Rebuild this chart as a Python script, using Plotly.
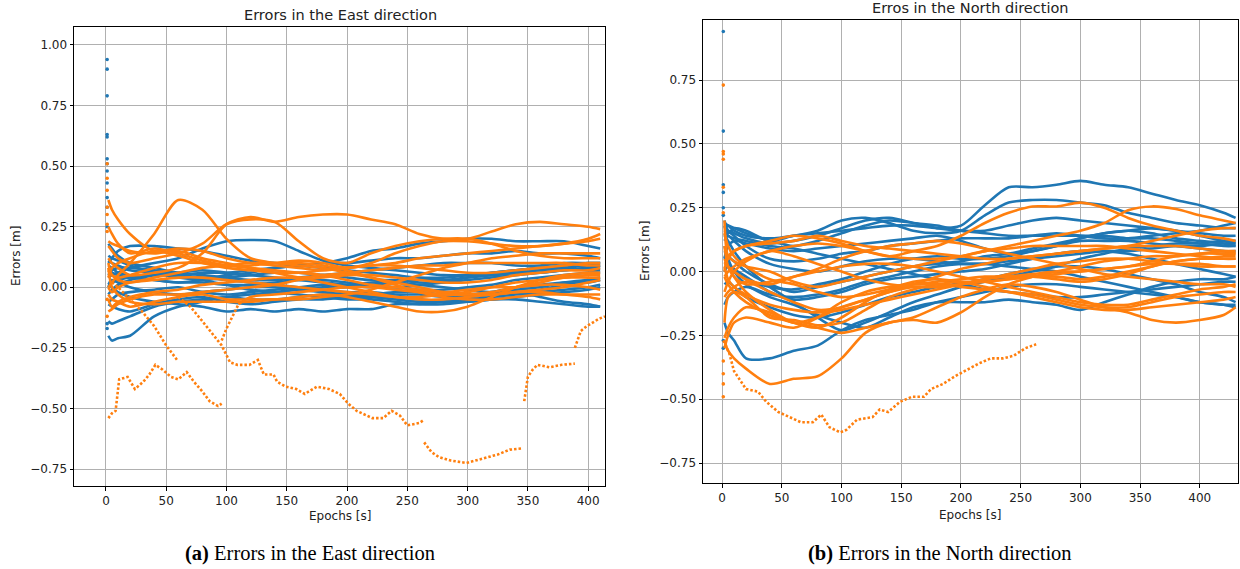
import plotly.graph_objects as go

BLUE = "#1f77b4"
ORANGE = "#ff7f0e"

# ---------------- East panel data ----------------
T_EAST = [2, 5, 10, 20, 40, 60, 80, 100, 120, 140, 160, 180, 200, 220, 240, 260, 280, 300, 320, 340, 360, 380, 400, 410]

EAST_BLUE = [
    [0.10, 0.12, 0.15, 0.17, 0.17, 0.16, 0.15, 0.13, 0.11, 0.10, 0.09, 0.08, 0.07, 0.06, 0.05, 0.04, 0.04, 0.05, 0.06, 0.07, 0.08, 0.08, 0.07, 0.07],
    [0.04, 0.05, 0.06, 0.08, 0.10, 0.12, 0.16, 0.19, 0.195, 0.19, 0.15, 0.11, 0.09, 0.08, 0.07, 0.06, 0.05, 0.05, 0.05, 0.06, 0.07, 0.08, 0.09, 0.09],
    [0.02, 0.02, 0.03, 0.04, 0.05, 0.05, 0.06, 0.06, 0.07, 0.08, 0.09, 0.10, 0.12, 0.15, 0.16, 0.18, 0.19, 0.20, 0.20, 0.19, 0.19, 0.19, 0.17, 0.16],
    [0.09, 0.08, 0.06, 0.05, 0.03, 0.02, 0.03, 0.05, 0.06, 0.08, 0.09, 0.10, 0.10, 0.11, 0.12, 0.12, 0.13, 0.14, 0.14, 0.15, 0.14, 0.14, 0.13, 0.12],
    [0.02, 0.0, -0.02, -0.04, -0.06, -0.07, -0.08, -0.10, -0.09, -0.10, -0.09, -0.10, -0.09, -0.09, -0.07, -0.07, -0.06, -0.04, -0.03, -0.02, -0.04, -0.06, -0.07, -0.08],
    [-0.20, -0.22, -0.21, -0.20, -0.12, -0.08, -0.06, -0.04, -0.03, -0.02, -0.01, 0.0, 0.0, 0.01, 0.02, 0.03, 0.03, 0.04, 0.05, 0.06, 0.06, 0.07, 0.08, 0.08],
    [-0.14, -0.15, -0.14, -0.12, -0.08, -0.06, -0.05, -0.04, -0.05, -0.05, -0.04, -0.03, -0.03, -0.04, -0.05, -0.06, -0.06, -0.05, -0.04, -0.03, -0.02, -0.01, 0.0, 0.01],
    [0.07, 0.06, 0.05, 0.04, 0.03, 0.02, 0.02, 0.01, 0.01, 0.02, 0.03, 0.03, 0.02, 0.01, 0.0, -0.01, -0.01, 0.0, 0.01, 0.03, 0.04, 0.05, 0.06, 0.06],
    [0.11, 0.10, 0.09, 0.07, 0.06, 0.05, 0.04, 0.03, 0.02, 0.01, 0.0, -0.01, -0.02, -0.02, -0.03, -0.03, -0.04, -0.04, -0.03, -0.02, -0.01, 0.01, 0.03, 0.04],
    [-0.06, -0.05, -0.03, -0.02, -0.01, 0.0, -0.02, -0.03, -0.02, -0.01, 0.0, 0.01, 0.01, 0.02, 0.02, 0.01, 0.0, -0.01, -0.02, -0.01, 0.0, 0.02, 0.03, 0.03],
    [0.13, 0.12, 0.11, 0.09, 0.06, 0.04, 0.03, 0.04, 0.05, 0.06, 0.06, 0.05, 0.04, 0.03, 0.03, 0.02, 0.02, 0.03, 0.04, 0.05, 0.06, 0.07, 0.08, 0.09],
    [-0.07, -0.08, -0.09, -0.10, -0.07, -0.05, -0.04, -0.06, -0.07, -0.06, -0.05, -0.05, -0.04, -0.04, -0.04, -0.05, -0.06, -0.06, -0.05, -0.05, -0.06, -0.07, -0.08, -0.08],
    [0.18, 0.16, 0.13, 0.10, 0.08, 0.06, 0.05, 0.04, 0.03, 0.03, 0.04, 0.05, 0.06, 0.07, 0.08, 0.09, 0.10, 0.10, 0.10, 0.09, 0.09, 0.10, 0.10, 0.10],
    [0.0, 0.03, 0.02, 0.0, -0.02, -0.03, -0.02, -0.01, 0.0, 0.0, -0.01, -0.02, -0.03, -0.03, -0.02, -0.02, -0.03, -0.03, -0.02, 0.0, 0.01, 0.02, 0.02, 0.03],
    [0.05, 0.07, 0.08, 0.08, 0.07, 0.05, 0.03, 0.01, -0.01, -0.02, -0.03, -0.04, -0.05, -0.05, -0.06, -0.07, -0.07, -0.06, -0.05, -0.04, -0.03, -0.02, -0.01, 0.0],
    [-0.03, -0.01, 0.01, 0.03, 0.05, 0.06, 0.07, 0.06, 0.05, 0.04, 0.03, 0.02, 0.01, 0.0, 0.0, 0.01, 0.02, 0.04, 0.06, 0.07, 0.08, 0.09, 0.10, 0.10],
]

EAST_ORANGE = [
    [0.12, 0.10, 0.08, 0.05, 0.06, 0.08, 0.14, 0.26, 0.29, 0.27, 0.29, 0.30, 0.30, 0.28, 0.26, 0.22, 0.20, 0.20, 0.23, 0.26, 0.27, 0.26, 0.25, 0.24],
    [0.17, 0.15, 0.12, 0.10, 0.12, 0.14, 0.18, 0.26, 0.28, 0.27, 0.19, 0.12, 0.10, 0.14, 0.17, 0.19, 0.20, 0.20, 0.18, 0.15, 0.13, 0.12, 0.12, 0.12],
    [0.0, 0.02, 0.05, 0.10, 0.22, 0.36, 0.32, 0.20, 0.12, 0.10, 0.09, 0.08, 0.06, 0.04, 0.02, 0.0, -0.02, -0.03, -0.03, -0.02, -0.01, 0.0, 0.02, 0.03],
    [0.36, 0.32, 0.28, 0.22, 0.15, 0.16, 0.15, 0.12, 0.10, 0.09, 0.08, 0.07, 0.08, 0.09, 0.10, 0.12, 0.13, 0.14, 0.15, 0.16, 0.17, 0.18, 0.19, 0.20],
    [-0.03, -0.05, -0.06, -0.08, -0.06, -0.04, -0.03, -0.05, -0.05, -0.05, -0.04, -0.03, -0.04, -0.06, -0.08, -0.10, -0.10, -0.08, -0.04, 0.0, 0.03, 0.05, 0.06, 0.06],
    [0.07, 0.05, 0.03, 0.02, 0.04, 0.06, 0.08, 0.09, 0.10, 0.10, 0.10, 0.09, 0.07, 0.04, 0.01, -0.02, -0.04, -0.05, -0.05, -0.04, -0.03, -0.03, -0.03, -0.03],
    [0.19, 0.18, 0.17, 0.15, 0.14, 0.15, 0.12, 0.10, 0.08, 0.06, 0.04, 0.02, 0.0, -0.02, -0.04, -0.05, -0.05, -0.04, -0.03, -0.02, -0.02, -0.03, -0.04, -0.05],
    [-0.05, -0.08, -0.06, -0.04, -0.02, -0.01, 0.01, 0.02, 0.03, 0.04, 0.04, 0.05, 0.06, 0.07, 0.08, 0.09, 0.09, 0.10, 0.10, 0.10, 0.10, 0.10, 0.09, 0.09],
    [0.0, -0.02, 0.0, 0.02, 0.03, 0.04, 0.04, 0.03, 0.02, 0.01, 0.0, -0.01, -0.02, -0.03, -0.04, -0.04, -0.03, -0.02, 0.0, 0.02, 0.03, 0.04, 0.04, 0.04],
    [0.08, 0.0, -0.03, -0.06, -0.07, -0.06, -0.06, -0.06, -0.06, -0.05, -0.05, -0.04, -0.03, -0.01, 0.02, 0.05, 0.08, 0.10, 0.12, 0.13, 0.14, 0.14, 0.14, 0.14],
    [0.25, 0.22, 0.18, 0.14, 0.16, 0.14, 0.11, 0.09, 0.08, 0.07, 0.06, 0.05, 0.03, 0.01, 0.0, -0.01, -0.02, -0.01, 0.0, 0.0, 0.01, 0.01, 0.0, -0.01],
    [0.10, 0.05, 0.04, 0.05, 0.08, 0.10, 0.10, 0.09, 0.09, 0.10, 0.11, 0.10, 0.08, 0.10, 0.14, 0.17, 0.19, 0.19, 0.18, 0.17, 0.17, 0.18, 0.20, 0.22],
    [-0.10, -0.09, -0.07, -0.05, -0.03, -0.03, -0.02, -0.01, 0.0, 0.01, 0.03, 0.04, 0.05, 0.05, 0.04, 0.03, 0.02, 0.02, 0.03, 0.05, 0.06, 0.07, 0.07, 0.08],
    [0.04, 0.08, 0.10, 0.12, 0.15, 0.13, 0.10, 0.08, 0.07, 0.06, 0.06, 0.07, 0.08, 0.09, 0.09, 0.08, 0.07, 0.06, 0.06, 0.07, 0.08, 0.09, 0.10, 0.10],
]

# orange series that re-joins the band after an excursion (East), from t=110 on
T_EAST_LATE = [110, 120, 140, 160, 180, 200, 220, 240, 260, 280, 300, 320, 340, 360, 380, 400, 410]
EAST_ORANGE_LATE = [-0.07, -0.04, -0.03, -0.02, -0.01, 0.0, 0.0, -0.01, -0.02, -0.03, -0.03, -0.02, 0.0, 0.02, 0.04, 0.05, 0.05]

# initial-epoch values
EAST_BLUE_START = [0.94, 0.90, 0.79, 0.63, 0.62, 0.53, 0.51, 0.48, 0.43, 0.37, 0.33, 0.25, -0.17, -0.15]
EAST_ORANGE_START = [0.51, 0.45, 0.40, 0.33, 0.30, 0.26, 0.23, -0.05, -0.12]

# orange outlier segments (East), drawn as dotted excursions
EAST_OUT_T = [
    [2, 5, 8, 11, 18, 24, 31, 36, 41, 47, 54, 60, 67, 73, 80, 86, 93, 96],
    [5, 10, 20, 30, 40, 50, 59],
    [60, 70, 80, 90, 96, 100, 103, 109, 119, 126, 131, 139, 142, 149, 158, 165, 175, 185, 194, 201, 208, 221, 230, 237, 244, 250, 260, 263],
    [264, 270, 276, 286, 299, 306, 316, 325, 335, 345],
    [347, 350, 354, 358, 368, 378, 389],
    [389, 394, 399, 404, 409, 414],
    [96, 100, 105, 110],
]
EAST_OUT_V = [
    [-0.54, -0.52, -0.51, -0.38, -0.37, -0.42, -0.39, -0.36, -0.32, -0.34, -0.37, -0.38, -0.35, -0.39, -0.43, -0.47, -0.49, -0.48],
    [0.02, 0.0, -0.05, -0.10, -0.16, -0.24, -0.30],
    [-0.04, -0.08, -0.14, -0.20, -0.24, -0.28, -0.31, -0.32, -0.32, -0.30, -0.36, -0.36, -0.39, -0.41, -0.42, -0.44, -0.41, -0.42, -0.44, -0.48, -0.51, -0.54, -0.54, -0.51, -0.53, -0.57, -0.56, -0.55],
    [-0.64, -0.68, -0.70, -0.715, -0.725, -0.715, -0.70, -0.69, -0.67, -0.665],
    [-0.47, -0.37, -0.34, -0.32, -0.33, -0.32, -0.315],
    [-0.25, -0.18, -0.16, -0.145, -0.13, -0.12],
    [-0.22, -0.17, -0.12, -0.07],
]

# ---------------- North panel data ----------------
T_NORTH = [2, 5, 10, 20, 40, 60, 80, 100, 120, 140, 160, 180, 200, 220, 240, 260, 280, 300, 320, 340, 360, 380, 400, 420, 430]

NORTH_BLUE = [
    [0.16, 0.15, 0.17, 0.16, 0.12, 0.14, 0.15, 0.16, 0.17, 0.18, 0.18, 0.17, 0.18, 0.26, 0.33, 0.33, 0.34, 0.355, 0.34, 0.33, 0.305, 0.28, 0.26, 0.23, 0.21],
    [0.19, 0.18, 0.16, 0.14, 0.13, 0.14, 0.16, 0.20, 0.21, 0.19, 0.16, 0.15, 0.16, 0.22, 0.27, 0.28, 0.28, 0.27, 0.26, 0.23, 0.21, 0.19, 0.18, 0.17, 0.17],
    [-0.20, -0.24, -0.27, -0.34, -0.34, -0.31, -0.29, -0.23, -0.19, -0.17, -0.15, -0.12, -0.10, -0.08, -0.06, -0.05, -0.05, -0.06, -0.07, -0.08, -0.09, -0.10, -0.12, -0.13, -0.13],
    [0.10, 0.05, 0.0, -0.05, -0.10, -0.13, -0.17, -0.20, -0.22, -0.18, -0.14, -0.12, -0.12, -0.12, -0.11, -0.12, -0.13, -0.15, -0.12, -0.09, -0.06, -0.04, -0.03, -0.03, -0.02],
    [0.14, 0.12, 0.08, 0.02, -0.06, -0.12, -0.18, -0.23, -0.20, -0.16, -0.12, -0.09, -0.06, -0.04, -0.02, 0.0, 0.02, 0.05, 0.07, 0.09, 0.10, 0.11, 0.11, 0.12, 0.12],
    [0.17, 0.18, 0.17, 0.15, 0.12, 0.10, 0.12, 0.15, 0.18, 0.20, 0.19, 0.18, 0.16, 0.15, 0.14, 0.14, 0.14, 0.14, 0.14, 0.13, 0.13, 0.12, 0.11, 0.10, 0.10],
    [0.05, 0.10, 0.12, 0.11, 0.09, 0.08, 0.09, 0.10, 0.11, 0.12, 0.13, 0.14, 0.12, 0.09, 0.07, 0.08, 0.10, 0.13, 0.15, 0.16, 0.17, 0.16, 0.14, 0.12, 0.11],
    [0.0, 0.02, 0.0, -0.03, -0.06, -0.07, -0.05, -0.03, 0.0, 0.03, 0.05, 0.06, 0.05, 0.05, 0.06, 0.08, 0.10, 0.12, 0.12, 0.12, 0.11, 0.10, 0.09, 0.08, 0.08],
    [-0.13, -0.10, -0.08, -0.06, -0.09, -0.10, -0.09, -0.07, -0.04, -0.02, 0.0, 0.02, 0.03, 0.03, 0.02, 0.01, 0.0, -0.02, -0.04, -0.06, -0.08, -0.10, -0.12, -0.13, -0.14],
    [0.12, 0.14, 0.12, 0.08, 0.03, 0.01, 0.0, 0.02, 0.04, 0.05, 0.05, 0.04, 0.03, 0.03, 0.04, 0.05, 0.06, 0.07, 0.08, 0.08, 0.09, 0.10, 0.10, 0.11, 0.11],
    [0.18, 0.14, 0.13, 0.12, 0.10, 0.09, 0.07, 0.05, 0.03, 0.01, -0.01, -0.03, -0.05, -0.07, -0.08, -0.09, -0.10, -0.10, -0.09, -0.08, -0.07, -0.06, -0.05, -0.04, -0.04],
    [0.06, 0.03, 0.01, -0.02, -0.08, -0.11, -0.10, -0.08, -0.05, -0.03, -0.02, -0.01, 0.0, 0.01, 0.03, 0.05, 0.07, 0.08, 0.08, 0.07, 0.05, 0.03, 0.01, -0.01, -0.02],
    [0.20, 0.16, 0.14, 0.10, 0.05, 0.04, 0.05, 0.07, 0.08, 0.10, 0.11, 0.12, 0.13, 0.13, 0.13, 0.14, 0.15, 0.14, 0.13, 0.13, 0.14, 0.15, 0.16, 0.18, 0.19],
    [-0.05, -0.04, -0.06, -0.10, -0.14, -0.17, -0.18, -0.16, -0.13, -0.10, -0.08, -0.06, -0.05, -0.03, -0.01, 0.01, 0.02, 0.02, 0.01, -0.01, -0.03, -0.05, -0.08, -0.10, -0.12],
    [0.14, 0.16, 0.15, 0.13, 0.11, 0.12, 0.14, 0.17, 0.20, 0.21, 0.19, 0.17, 0.16, 0.16, 0.18, 0.20, 0.21, 0.20, 0.19, 0.18, 0.17, 0.16, 0.15, 0.14, 0.14],
    [0.08, 0.06, 0.04, 0.0, -0.05, -0.08, -0.06, -0.04, -0.02, 0.0, 0.02, 0.03, 0.04, 0.06, 0.07, 0.09, 0.11, 0.13, 0.15, 0.16, 0.15, 0.13, 0.12, 0.11, 0.10],
]

NORTH_ORANGE = [
    [-0.27, -0.31, -0.34, -0.38, -0.44, -0.42, -0.41, -0.34, -0.24, -0.20, -0.19, -0.20, -0.16, -0.10, -0.05, -0.02, 0.0, 0.02, 0.04, 0.05, 0.06, 0.06, 0.07, 0.07, 0.07],
    [0.03, 0.05, 0.08, 0.10, 0.12, 0.14, 0.13, 0.11, 0.08, 0.06, 0.08, 0.10, 0.14, 0.19, 0.23, 0.255, 0.255, 0.27, 0.25, 0.21, 0.18, 0.16, 0.14, 0.13, 0.12],
    [-0.02, 0.0, 0.02, 0.05, 0.08, 0.10, 0.11, 0.10, 0.08, 0.06, 0.05, 0.05, 0.06, 0.08, 0.10, 0.12, 0.14, 0.16, 0.19, 0.24, 0.255, 0.245, 0.22, 0.20, 0.19],
    [-0.02, -0.05, -0.08, -0.12, -0.17, -0.20, -0.22, -0.24, -0.22, -0.20, -0.18, -0.14, -0.10, -0.07, -0.05, -0.06, -0.08, -0.11, -0.14, -0.16, -0.19, -0.20, -0.19, -0.17, -0.14],
    [0.03, 0.02, -0.02, -0.08, -0.15, -0.20, -0.22, -0.18, -0.12, -0.07, -0.04, -0.03, -0.04, -0.06, -0.08, -0.10, -0.12, -0.14, -0.15, -0.15, -0.14, -0.13, -0.12, -0.11, -0.10],
    [0.0, 0.06, 0.08, 0.10, 0.11, 0.12, 0.14, 0.12, 0.10, 0.09, 0.08, 0.07, 0.06, 0.05, 0.05, 0.06, 0.07, 0.08, 0.09, 0.10, 0.12, 0.14, 0.16, 0.17, 0.17],
    [-0.10, -0.08, -0.06, -0.04, -0.08, -0.12, -0.15, -0.14, -0.11, -0.08, -0.05, -0.02, 0.01, 0.03, 0.05, 0.06, 0.07, 0.08, 0.09, 0.10, 0.10, 0.10, 0.09, 0.08, 0.07],
    [0.15, 0.10, 0.06, 0.02, -0.03, -0.05, -0.08, -0.10, -0.09, -0.07, -0.05, -0.04, -0.03, -0.02, -0.02, -0.02, -0.03, -0.04, -0.03, -0.01, 0.02, 0.04, 0.05, 0.05, 0.05],
    [-0.20, -0.10, -0.08, -0.10, -0.18, -0.19, -0.21, -0.20, -0.15, -0.10, -0.07, -0.05, -0.04, -0.04, -0.03, -0.02, -0.01, 0.0, 0.01, 0.02, 0.03, 0.03, 0.03, 0.02, 0.02],
    [0.05, 0.02, 0.0, -0.03, -0.05, -0.02, 0.0, 0.02, 0.03, 0.03, 0.02, 0.0, -0.02, -0.04, -0.06, -0.08, -0.10, -0.12, -0.13, -0.13, -0.11, -0.09, -0.07, -0.06, -0.05],
    [-0.26, -0.22, -0.18, -0.14, -0.16, -0.20, -0.18, -0.14, -0.11, -0.08, -0.06, -0.06, -0.05, -0.04, -0.03, -0.02, -0.02, -0.03, -0.02, 0.0, 0.02, 0.04, 0.05, 0.06, 0.06],
    [0.10, 0.02, -0.02, -0.05, -0.04, -0.02, 0.01, 0.05, 0.08, 0.10, 0.11, 0.12, 0.11, 0.09, 0.07, 0.05, 0.03, 0.01, -0.01, -0.02, -0.03, -0.04, -0.05, -0.05, -0.06],
    [-0.30, -0.25, -0.20, -0.18, -0.20, -0.22, -0.18, -0.12, -0.08, -0.06, -0.05, -0.05, -0.06, -0.07, -0.08, -0.09, -0.11, -0.13, -0.14, -0.14, -0.12, -0.10, -0.09, -0.08, -0.08],
    [0.20, 0.06, 0.04, 0.02, 0.0, -0.04, -0.06, -0.04, -0.02, 0.0, 0.02, 0.04, 0.06, 0.08, 0.09, 0.10, 0.10, 0.10, 0.10, 0.09, 0.08, 0.07, 0.06, 0.05, 0.05],
    [0.02, -0.03, -0.06, -0.09, -0.13, -0.15, -0.16, -0.15, -0.13, -0.11, -0.09, -0.07, -0.05, -0.03, -0.02, -0.01, 0.0, 0.0, 0.01, 0.02, 0.04, 0.06, 0.07, 0.08, 0.08],
    [-0.08, -0.04, 0.0, 0.04, 0.08, 0.06, 0.03, 0.0, -0.03, -0.05, -0.06, -0.06, -0.05, -0.03, -0.01, 0.01, 0.03, 0.04, 0.05, 0.05, 0.04, 0.03, 0.02, 0.02, 0.02],
]

NORTH_BLUE_START = [0.94, 0.55, 0.34, 0.31, 0.25, 0.22, -0.27, -0.30]
NORTH_ORANGE_START = [0.73, 0.47, 0.46, 0.44, 0.33, 0.23, -0.35, -0.40, -0.49, -0.44]

NORTH_OUT_T = [1, 6, 10, 20, 30, 37, 47, 57, 66, 76, 83, 90, 99, 104, 113, 126, 132, 139, 149, 159, 169, 175, 185, 195, 205, 215, 225, 235, 244, 254, 263]
NORTH_OUT_V = [-0.27, -0.32, -0.39, -0.46, -0.47, -0.51, -0.55, -0.57, -0.59, -0.59, -0.56, -0.61, -0.63, -0.62, -0.58, -0.57, -0.54, -0.55, -0.51, -0.49, -0.49, -0.46, -0.44, -0.41, -0.385, -0.36, -0.34, -0.34, -0.33, -0.30, -0.285]

# ---------------- Layout geometry ----------------
W, H = 1240, 569


def px_x(p):
    return p / W


def px_y(p):
    return 1 - p / H


fig = go.Figure()


def band(xaxis, yaxis, t, v, color):
    fig.add_trace(go.Scatter(x=t, y=v, mode="lines", xaxis=xaxis, yaxis=yaxis,
                             line=dict(color=color, width=2.6, shape="spline", smoothing=0.8),
                             showlegend=False, hoverinfo="skip"))


def dots(xaxis, yaxis, t, v, color):
    fig.add_trace(go.Scatter(x=t, y=v, mode="lines", xaxis=xaxis, yaxis=yaxis,
                             line=dict(color=color, width=2.6, dash="2.5px,2px"),
                             showlegend=False, hoverinfo="skip"))


def starts(xaxis, yaxis, v, color):
    fig.add_trace(go.Scatter(x=[1] * len(v), y=v, mode="markers", xaxis=xaxis, yaxis=yaxis,
                             marker=dict(color=color, size=3.6), showlegend=False,
                             hoverinfo="skip"))


for s in EAST_BLUE:
    band("x", "y", T_EAST, s, BLUE)
starts("x", "y", EAST_BLUE_START, BLUE)
for s in EAST_ORANGE:
    band("x", "y", T_EAST, s, ORANGE)
band("x", "y", T_EAST_LATE, EAST_ORANGE_LATE, ORANGE)
for t, v in zip(EAST_OUT_T, EAST_OUT_V):
    dots("x", "y", t, v, ORANGE)
starts("x", "y", EAST_ORANGE_START, ORANGE)

for s in NORTH_BLUE:
    band("x2", "y2", T_NORTH, s, BLUE)
starts("x2", "y2", NORTH_BLUE_START, BLUE)
for s in NORTH_ORANGE:
    band("x2", "y2", T_NORTH, s, ORANGE)
dots("x2", "y2", NORTH_OUT_T, NORTH_OUT_V, ORANGE)
starts("x2", "y2", NORTH_ORANGE_START, ORANGE)

TICK_FONT = dict(family="DejaVu Sans", size=12, color="#222222")
X_TICKS = [0, 50, 100, 150, 200, 250, 300, 350, 400]
Y_TICKS_E = [1.0, 0.75, 0.5, 0.25, 0.0, -0.25, -0.5, -0.75]
Y_TICKS_N = [0.75, 0.5, 0.25, 0.0, -0.25, -0.5, -0.75]


def ylab(v):
    s = f"{abs(v):.2f}"
    return ("\u2212" + s) if v < 0 else s


axis_common = dict(showline=True, linecolor="black", linewidth=1, mirror=True,
                   showgrid=True, gridcolor="#b0b0b0", gridwidth=0.8,
                   ticks="outside", ticklen=3.5, tickcolor="black", tickwidth=0.8,
                   tickfont=TICK_FONT, zeroline=False)

fig.update_layout(
    width=W, height=H,
    margin=dict(l=0, r=0, t=0, b=0),
    paper_bgcolor="white", plot_bgcolor="white",
    xaxis=dict(domain=[px_x(74), px_x(605)], range=[-26.5, 414], tickvals=X_TICKS,
               anchor="y", **axis_common),
    yaxis=dict(domain=[px_y(486), px_y(27)], range=[-0.82, 1.074], tickvals=Y_TICKS_E,
               ticktext=[ylab(v) for v in Y_TICKS_E], anchor="x", **axis_common),
    xaxis2=dict(domain=[px_x(703), px_x(1238)], range=[-16, 432], tickvals=X_TICKS,
                anchor="y2", **axis_common),
    yaxis2=dict(domain=[px_y(483), px_y(20)], range=[-0.828, 0.985], tickvals=Y_TICKS_N,
                ticktext=[ylab(v) for v in Y_TICKS_N], anchor="x2", **axis_common),
)

LABEL_FONT = dict(family="DejaVu Sans", size=12, color="#222222")
TITLE_FONT = dict(family="DejaVu Sans", size=14.5, color="#222222")
CAP_FONT = dict(family="Liberation Serif", size=20.5, color="black")

ann = [
    dict(text="Errors in the East direction", x=px_x(340), y=px_y(15), font=TITLE_FONT),
    dict(text="Erros in the North direction", x=px_x(970), y=px_y(8), font=TITLE_FONT),
    dict(text="Epochs [s]", x=px_x(340), y=px_y(516), font=LABEL_FONT),
    dict(text="Epochs [s]", x=px_x(970), y=px_y(515), font=LABEL_FONT),
    dict(text="Errors [m]", x=px_x(16), y=px_y(256), font=LABEL_FONT, textangle=-90),
    dict(text="Errors [m]", x=px_x(645), y=px_y(251), font=LABEL_FONT, textangle=-90),
    dict(text="<b>(a)</b> Errors in the East direction", x=px_x(310), y=px_y(553), font=CAP_FONT),
    dict(text="<b>(b)</b> Errors in the North direction", x=px_x(940), y=px_y(553), font=CAP_FONT),
]
for a in ann:
    fig.add_annotation(xref="paper", yref="paper", showarrow=False,
                       xanchor="center", yanchor="middle", **a)

fig.write_html("out.html")
